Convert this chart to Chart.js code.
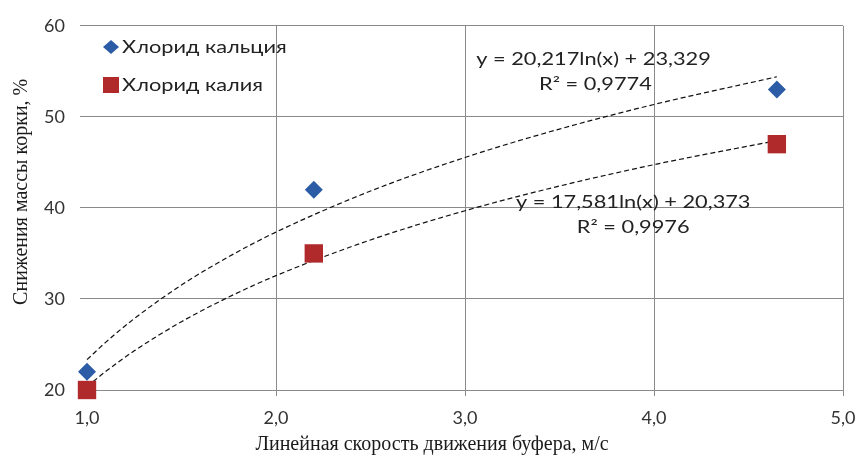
<!DOCTYPE html>
<html>
<head>
<meta charset="utf-8">
<script src="https://cdn.jsdelivr.net/npm/chart.js@4/dist/chart.umd.min.js"></script>
<style>
  html, body { margin: 0; padding: 0; background: #fff; }
  #wrap { width: 858px; height: 457px; }
</style>
</head>
<body>
<div id="wrap"><canvas id="myChart" width="858" height="457"></canvas></div>
<script>
// измерения
const seriesNames = ['Хлорид кальция', 'Хлорид калия'];
const speeds = [1.0, 2.2, 4.65];
const calcium = [22, 42, 53];
const potassium = [20, 35, 47];

const trendX = [1.0, 1.1, 1.25, 1.5, 1.75, 2.0, 2.5, 3.0, 3.5, 4.0, 4.65];
const trendCalcium = [23.33, 25.26, 27.84, 31.53, 34.64, 37.34, 41.85, 45.54, 48.66, 51.36, 54.40];
const trendPotassium = [20.37, 22.05, 24.30, 27.50, 30.21, 32.56, 36.48, 39.69, 42.40, 44.75, 47.39];

const trendLabels = [
  ['y = 20,217ln(x) + 23,329', 'R² = 0,9774'],
  ['y = 17,581ln(x) + 20,373', 'R² = 0,9976']
];

const xTitle = 'Линейная скорость движения буфера, м/с';
const yTitle = 'Снижения массы корки, %';
const xTicks = [1, 2, 3, 4, 5];
const yTicks = [20, 30, 40, 50, 60];

const blue = '#2d5ca6';
const red = '#b02a2c';
const txtFont = '17px Lato, "Open Sans", sans-serif';
const titleFont = '20px "Liberation Serif", serif';

function pts(xs, ys) {
  return xs.map((x, i) => ({ x: x, y: ys[i] }));
}

const data = {
  datasets: [
    {
      label: seriesNames[0],
      data: pts(speeds, calcium),
      backgroundColor: blue,
      borderColor: blue,
      pointStyle: 'rectRot',
      pointRadius: 9,
      showLine: false,
      order: 1
    },
    {
      label: seriesNames[1],
      data: pts(speeds, potassium),
      backgroundColor: red,
      borderColor: red,
      pointStyle: 'rect',
      pointRadius: 13,
      showLine: false,
      order: 1
    },
    {
      label: 'trend1',
      data: pts(trendX, trendCalcium),
      borderColor: '#111',
      borderWidth: 1.2,
      borderDash: [5, 3],
      pointRadius: 0,
      showLine: true,
      cubicInterpolationMode: 'monotone',
      order: 2
    },
    {
      label: 'trend2',
      data: pts(trendX, trendPotassium),
      borderColor: '#111',
      borderWidth: 1.2,
      borderDash: [5, 3],
      pointRadius: 0,
      showLine: true,
      cubicInterpolationMode: 'monotone',
      order: 2
    }
  ]
};

// растянутый по горизонтали текст, как на исходном рисунке
function wideText(ctx, s, x, y, align) {
  ctx.save();
  ctx.translate(x, y);
  ctx.scale(1.28, 1);
  ctx.textAlign = align;
  ctx.fillText(s, 0, 0);
  ctx.restore();
}

// легенда, подписи уравнений и названия осей
const extras = {
  id: 'extras',
  afterDraw(chart) {
    const ctx = chart.ctx;
    const xs = chart.scales.x, ys = chart.scales.y;
    const area = chart.chartArea;
    ctx.save();
    ctx.font = txtFont;
    ctx.textBaseline = 'middle';

    // легенда
    const lx = 111;
    ctx.fillStyle = blue;
    ctx.beginPath();
    ctx.moveTo(lx, 47 - 7); ctx.lineTo(lx + 8, 47); ctx.lineTo(lx, 47 + 7); ctx.lineTo(lx - 8, 47);
    ctx.closePath(); ctx.fill();
    ctx.fillStyle = red;
    ctx.fillRect(lx - 8, 85 - 8, 16, 16);
    ctx.fillStyle = '#222';
    wideText(ctx, seriesNames[0], 122, 48, 'left');
    wideText(ctx, seriesNames[1], 122, 86, 'left');

    // уравнения
    wideText(ctx, trendLabels[0][0], xs.getPixelForValue(3.68), ys.getPixelForValue(56.28), 'center');
    wideText(ctx, trendLabels[0][1], xs.getPixelForValue(3.69), ys.getPixelForValue(53.55), 'center');
    wideText(ctx, trendLabels[1][0], xs.getPixelForValue(3.89), ys.getPixelForValue(40.55), 'center');
    wideText(ctx, trendLabels[1][1], xs.getPixelForValue(3.89), ys.getPixelForValue(37.81), 'center');

    // названия осей
    ctx.font = titleFont;
    ctx.fillStyle = '#1a1a1a';
    ctx.textAlign = 'center';
    ctx.fillText(xTitle, area.left + 345, 445);
    ctx.translate(22, area.top + 166);
    ctx.rotate(-Math.PI / 2);
    ctx.fillText(yTitle, 0, 0);
    ctx.restore();
  }
};

const config = {
  type: 'scatter',
  data: data,
  options: {
    responsive: false,
    animation: false,
    layout: { padding: { top: 16, right: 15, left: 10, bottom: 2 } },
    plugins: {
      legend: { display: false },
      tooltip: { enabled: false }
    },
    elements: { point: { borderWidth: 0 } },
    datasets: { scatter: { clip: false } },
    scales: {
      x: {
        type: 'linear',
        min: 1,
        max: 5,
        afterBuildTicks: (s) => { s.ticks = xTicks.map(v => ({ value: v })); },
        afterFit: (s) => { s.height = 65; s.paddingLeft = 0; s.paddingRight = 0; },
        grid: {
          color: (c) => c.tick && c.tick.value === 1 ? 'rgba(0,0,0,0)' : '#8a8a8a',
          lineWidth: 1,
          tickLength: 6
        },
        border: { display: false },
        ticks: {
          color: '#333',
          font: { family: 'Lato, "Open Sans", sans-serif', size: 18 },
          padding: 11,
          callback: (v) => v.toFixed(1).replace('.', ',')
        }
      },
      y: {
        type: 'linear',
        min: 20,
        max: 60,
        afterBuildTicks: (s) => { s.ticks = yTicks.map(v => ({ value: v })); },
        afterFit: (s) => { s.width = 77; },
        grid: {
          color: '#8a8a8a',
          lineWidth: 1,
          tickLength: 7
        },
        border: { display: false },
        ticks: {
          color: '#333',
          font: { family: 'Lato, "Open Sans", sans-serif', size: 18 },
          padding: 15
        }
      }
    }
  },
  plugins: [extras]
};

const myChart = new Chart(document.getElementById('myChart'), config);
</script>
</body>
</html>
